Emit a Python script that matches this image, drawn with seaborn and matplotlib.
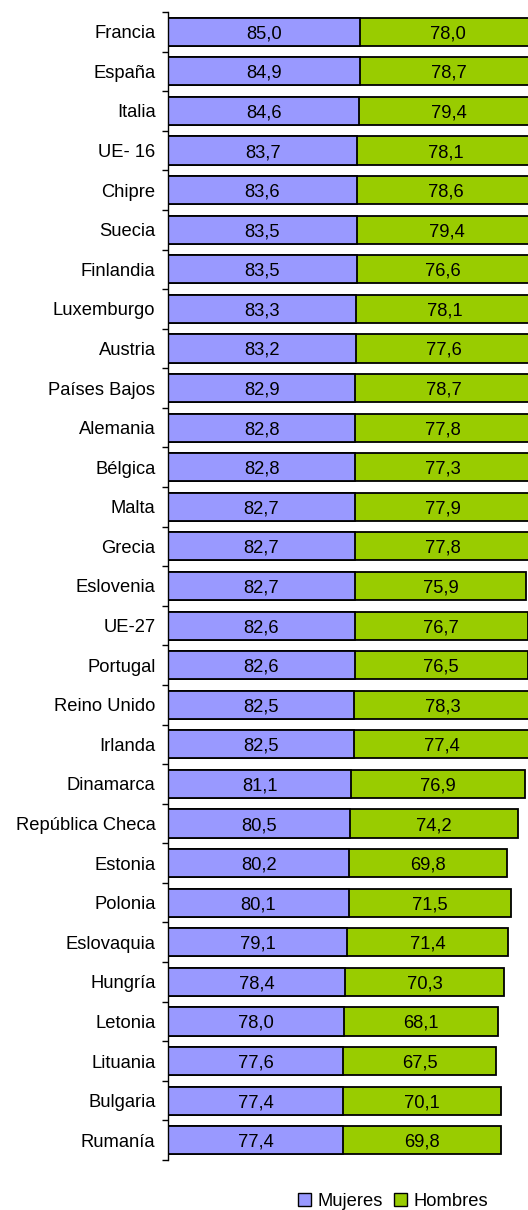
import matplotlib
matplotlib.use('Agg')
import matplotlib.pyplot as plt
import seaborn as sns
import pandas as pd
from matplotlib.patches import Patch

paises = ["Francia", "España", "Italia", "UE- 16", "Chipre", "Suecia", "Finlandia",
          "Luxemburgo", "Austria", "Países Bajos", "Alemania", "Bélgica", "Malta",
          "Grecia", "Eslovenia", "UE-27", "Portugal", "Reino Unido", "Irlanda",
          "Dinamarca", "República Checa", "Estonia", "Polonia", "Eslovaquia",
          "Hungría", "Letonia", "Lituania", "Bulgaria", "Rumanía"]
mujeres = [85.0, 84.9, 84.6, 83.7, 83.6, 83.5, 83.5, 83.3, 83.2, 82.9, 82.8, 82.8,
           82.7, 82.7, 82.7, 82.6, 82.6, 82.5, 82.5, 81.1, 80.5, 80.2, 80.1, 79.1,
           78.4, 78.0, 77.6, 77.4, 77.4]
hombres = [78.0, 78.7, 79.4, 78.1, 78.6, 79.4, 76.6, 78.1, 77.6, 78.7, 77.8, 77.3,
           77.9, 77.8, 75.9, 76.7, 76.5, 78.3, 77.4, 76.9, 74.2, 69.8, 71.5, 71.4,
           70.3, 68.1, 67.5, 70.1, 69.8]

df = pd.DataFrame({"pais": paises, "mujeres": mujeres, "hombres": hombres})
df["total"] = df["mujeres"] + df["hombres"]

sns.set_style("white")
plt.rcParams['font.family'] = ['Liberation Sans', 'DejaVu Sans']
plt.rcParams['text.color'] = 'black'
plt.rcParams['ytick.color'] = 'black'
plt.rcParams['ytick.labelcolor'] = 'black'

morado = "#9999FF"
verde = "#99CC00"
fs = 13.2

fig = plt.figure(figsize=(5.28, 12.10), dpi=100)
ax = fig.add_axes([168 / 528, 1 - 1160 / 1210, 360 / 528, 1148 / 1210])

# stacked look: total in green, women on top in purple
sns.barplot(data=df, y="pais", x="total", color=verde, edgecolor="black",
            linewidth=1.3, width=0.71, saturation=1, ax=ax)
sns.barplot(data=df, y="pais", x="mujeres", color=morado, edgecolor="black",
            linewidth=1.3, width=0.71, saturation=1, ax=ax)

fmt = lambda v: f"{v:.1f}".replace(".", ",")
for i, row in df.iterrows():
    ax.text(row["mujeres"] / 2, i, fmt(row["mujeres"]), ha="center",
            va="center_baseline", fontsize=fs, color="black")
    ax.text(row["mujeres"] + row["hombres"] / 2, i, fmt(row["hombres"]),
            ha="center", va="center_baseline", fontsize=fs, color="black")

ax.set_xlim(0, 159.3)
ax.set_ylim(len(df) - 0.5, -0.5)
ax.set_xlabel("")
ax.set_ylabel("")
ax.set_xticks([])
for s in ["top", "right", "bottom"]:
    ax.spines[s].set_visible(False)
ax.spines["left"].set_color("black")
ax.spines["left"].set_linewidth(1.0)
ax.tick_params(axis="y", which="major", length=0, pad=9, labelsize=fs,
               labelcolor="black")
ax.set_yticks([i - 0.5 for i in range(len(df) + 1)], minor=True)
ax.tick_params(axis="y", which="minor", length=4.5, width=1, color="black",
               direction="out", left=True)

handles = [Patch(facecolor=morado, edgecolor="black", label="Mujeres"),
           Patch(facecolor=verde, edgecolor="black", label="Hombres")]
fig.legend(handles=handles, loc="center", bbox_to_anchor=(393 / 528, 1 - 1201 / 1210),
           ncol=2, frameon=False, fontsize=fs, handlelength=0.7, handleheight=0.7,
           handletextpad=0.35, columnspacing=0.6, borderaxespad=0)

fig.savefig("out.png", dpi=100)
